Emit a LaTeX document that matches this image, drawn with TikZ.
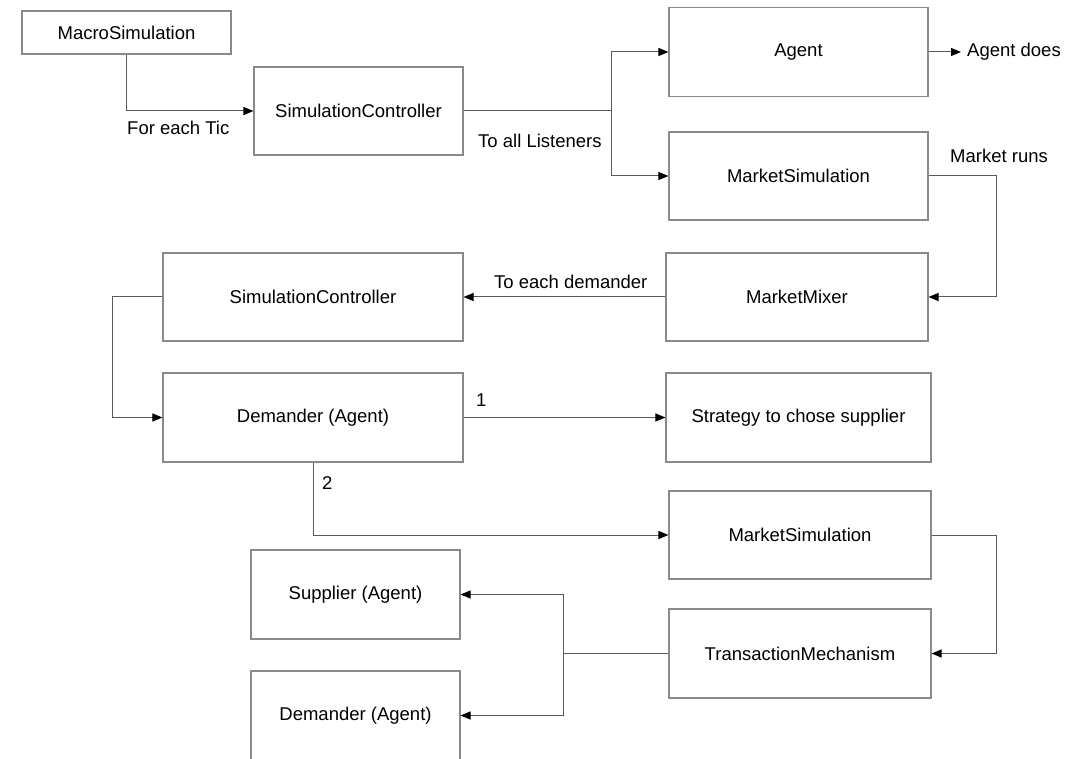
\documentclass[tikz,border=0pt]{standalone}
\usepackage{fontspec}
\setmainfont{Liberation Sans}
\usetikzlibrary{arrows.meta}
\definecolor{boxline}{HTML}{8A8A8A}
\definecolor{wire}{HTML}{5A5A5A}
\begin{document}
\begin{tikzpicture}[x=1pt,y=-1pt,
  font=\fontsize{18.5}{22}\selectfont,
  block/.style={draw=boxline,line width=1.1pt,fill=white,inner sep=0pt,
                minimum width=#1,minimum height=88pt},
  block/.default=262pt,
  link/.style={draw=wire,line width=1pt},
  tip/.style={-{Triangle[length=10pt,width=8pt,fill=black,color=black]}},
  lbl/.style={inner sep=0pt,anchor=west}]
\useasboundingbox[fill=white] (0,0) rectangle (1084,759);

% boxes
\node[block=209pt,minimum height=43pt] (macro) at (126.5,32.5) {MacroSimulation};
\node[block=209pt] (sc1)   at (358.5,111)   {SimulationController};
\node[block=259pt,minimum height=89pt] (agent) at (798.5,52) {Agent};
\node[block=259pt] (ms1)   at (798.5,176)   {MarketSimulation};
\node[block=262pt] (mixer) at (797,297)     {MarketMixer};
\node[block=300pt] (sc2)   at (313,297)     {SimulationController};
\node[block=300pt,minimum height=89pt] (dem1) at (313,417.5) {Demander (Agent)};
\node[block=265pt,minimum height=89pt] (strat) at (798.5,417.5) {Strategy to chose supplier};
\node[block=262pt] (ms2)   at (800,535)     {MarketSimulation};
\node[block=262pt,minimum height=89pt] (tm) at (800,653.5) {TransactionMechanism};
\node[block=209pt,minimum height=89pt] (supp) at (355.5,594.5) {Supplier (Agent)};
\node[block=209pt,minimum height=89pt] (dem2) at (355.5,715.5) {Demander (Agent)};

% free ends and labels
\coordinate (does) at (961,52);
\node[lbl] (doestext) at (967,52) {Agent does};
\node[lbl] (tictext) at (127,128) {For each Tic};
\node[lbl] (listtext) at (478,141) {To all Listeners};
\node[lbl] (runstext) at (950,156) {Market runs};
\node[lbl] (demtext) at (494,282) {To each demander};
\node[lbl] (onetext) at (476,400) {1};
\node[lbl] (twotext) at (322,483) {2};

% connectors
\draw[link,tip] (macro.south) |- (sc1.west);
\draw[link,tip] (sc1.east) -- ++(148,0) |- (agent.west);
\draw[link,tip] (sc1.east) -- ++(148,0) |- (ms1.west);
\draw[link,tip] (agent.east) -- (does);
\draw[link,tip] (ms1.east) -- ++(68,0) |- (mixer.east);
\draw[link,tip] (mixer.west) -- (sc2.east);
\draw[link,tip] (sc2.west) -- ++(-50,0) |- (dem1.west);
\draw[link,tip] (dem1.east) -- (strat.west);
\draw[link,tip] (dem1.south) |- (ms2.west);
\draw[link,tip] (ms2.east) -- ++(65,0) |- (tm.east);
\draw[link,tip] (tm.west) -- ++(-105,0) |- (supp.east);
\draw[link,tip] (tm.west) -- ++(-105,0) |- (dem2.east);
\end{tikzpicture}
\end{document}
